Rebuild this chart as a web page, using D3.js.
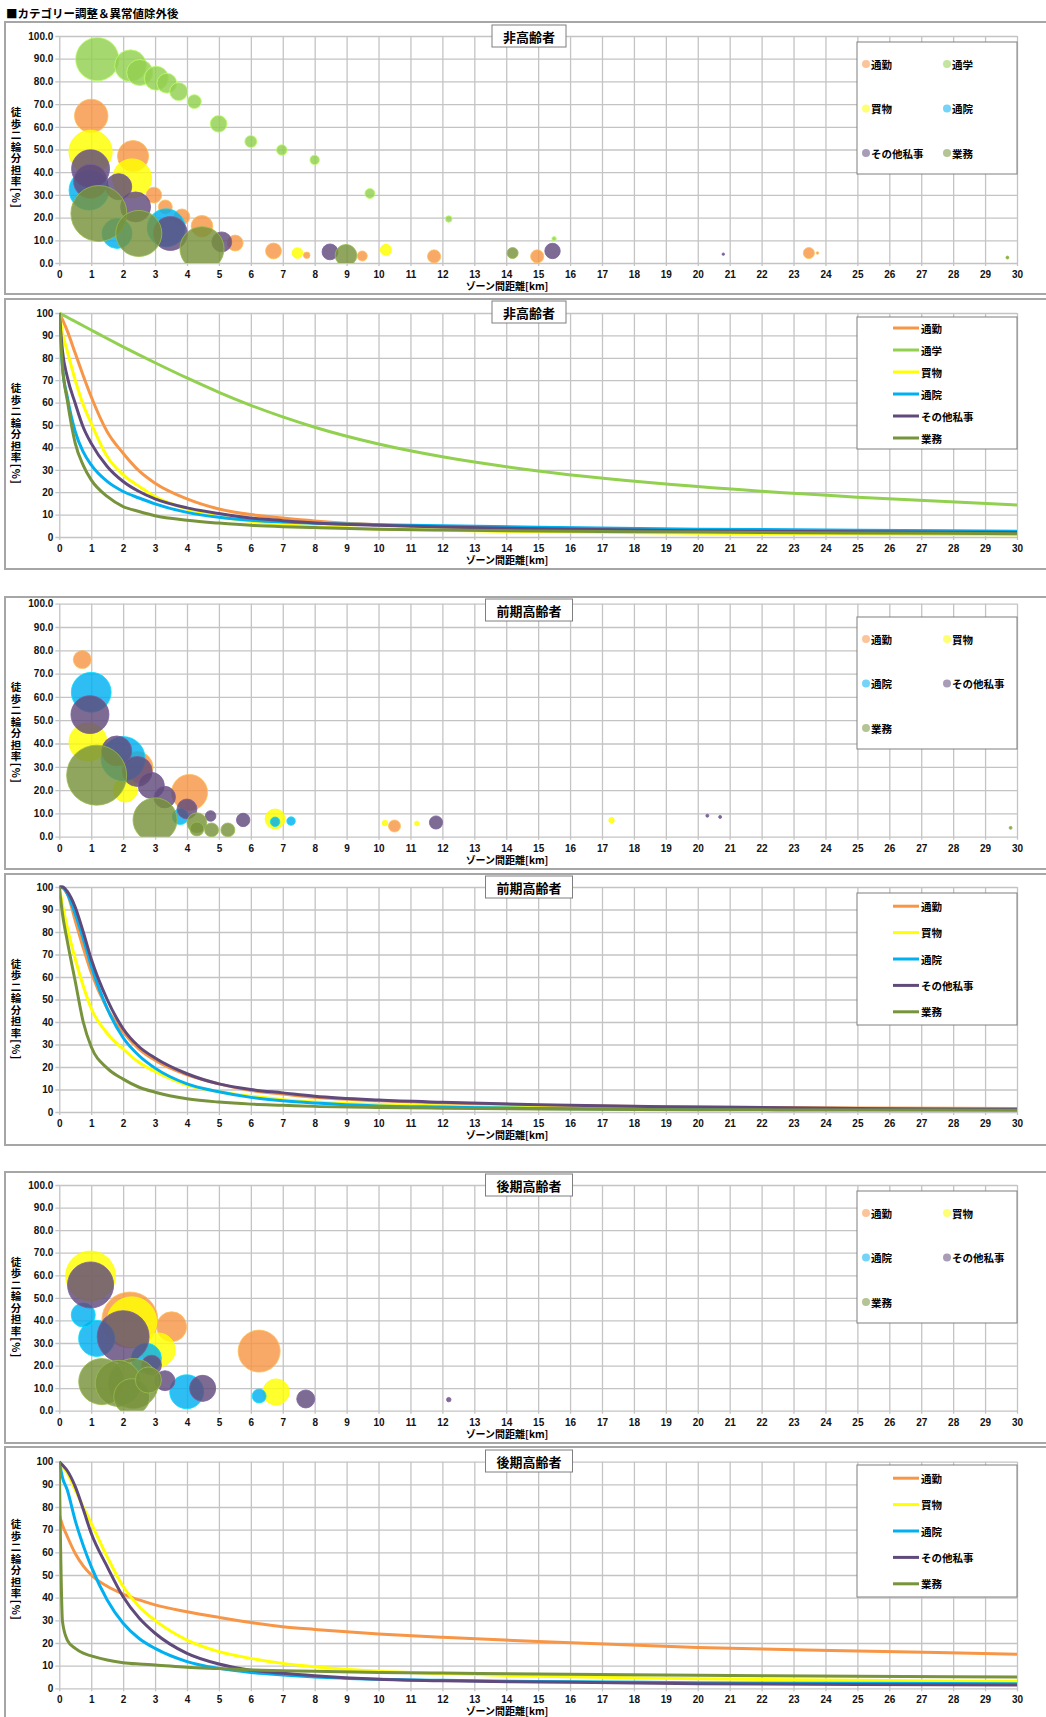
<!DOCTYPE html>
<html>
<head>
<meta charset="utf-8">
<script src="https://cdn.jsdelivr.net/npm/d3@7"></script>
<style>
  body { margin: 0; background: #fff; }
  svg text { font-family: "Liberation Sans", Arial, sans-serif; }
  .jp { font-family: "Noto Sans CJK JP", sans-serif; font-weight: bold; }
</style>
</head>
<body>
<svg id="chart" width="1046" height="1717"></svg>
<script>
// 目的区分と色
const purposes = ["通勤", "通学", "買物", "通院", "その他私事", "業務"];
const purposeColors = ["#F79646", "#92D050", "#FFFF00", "#00B0F0", "#604A7B", "#77933C"];
const xTicks = d3.range(0, 31);
const yTicks = d3.range(0, 101, 10);

// バブル: [ゾーン間距離km, 徒歩二輪分担率%, サイズ]
// 非高齢者
const nonCommuteB = [[1.0,64.8,31],[2.31,47.1,27],[2.96,29.9,7],[3.32,24.7,5.4],[3.84,20.3,7],[4.47,16.2,13],[5.51,8.8,7],[6.71,5.3,7],[7.75,3.4,1.2],[9.49,3.1,2.8],[11.74,2.9,4.8],[14.97,2.9,4.8],[23.48,4.4,3.4],[23.75,4.4,0.2]];
const nonSchoolB = [[1.19,89.8,52],[2.23,86.9,28],[2.52,83.9,19],[3.04,81.4,16],[3.37,79.2,11],[3.74,75.5,9],[4.23,71.1,5.4],[4.99,61.3,7.7],[6.0,53.5,4],[6.97,49.8,3.1],[8.0,45.4,2.5],[9.73,30.6,2.8],[12.2,19.4,1.2],[15.5,10.7,0.55]];
const nonShoppingB = [[0.98,49.0,52],[2.28,37.3,42],[7.46,4.4,3.1],[10.23,5.8,3.4]];
const nonHospitalB = [[0.93,32.1,44],[1.81,13.0,25],[3.35,15.5,40]];
const nonPrivateB = [[0.98,41.5,40],[0.98,36,32],[1.86,33.6,19],[2.39,24.7,25],[3.48,13,32],[5.09,9.3,11],[8.48,4.9,7],[15.45,5.3,6.6],[20.8,3.9,0.16]];
const nonBusinessB = [[1.24,21.8,87],[2.49,13,59],[4.47,6.3,54],[8.98,3.4,13],[14.2,4.4,3.4],[29.7,2.4,0.25]];
// 前期高齢者
const earlyCommuteB = [[0.72,76,9],[2.44,29.7,28],[4.08,19,36],[10.5,4.6,4]];
const earlyShoppingB = [[0.9,40.6,40],[2.07,20,16],[6.76,7.6,11],[10.2,5.9,0.8],[11.2,5.7,0.55],[17.3,7.1,0.8]];
const earlyHospitalB = [[1.0,62,44],[2.0,33.5,54],[3.79,8.6,7],[6.76,6.4,2.5],[7.26,6.7,2]];
const earlyPrivateB = [[0.96,52.4,40],[1.8,36.8,25],[2.44,28,25],[2.88,22,19],[3.3,17,13],[4.0,11.9,11],[4.74,8.9,3.1],[5.76,7.2,5],[11.8,6.1,4.8],[20.3,9,0.25],[20.7,8.5,0.25]];
const earlyBusinessB = [[1.17,26.4,100],[3.0,7.2,54],[4.31,6.0,11],[4.31,3.3,5.4],[4.77,2.9,5.4],[5.28,2.9,5.4],[29.8,3.8,0.25]];
// 後期高齢者
const lateCommuteB = [[2.21,40.2,87],[3.52,37.2,25],[6.26,26.4,49]];
const lateShoppingB = [[0.98,59.7,69],[2.27,39.4,69],[3.1,26.9,32],[6.79,8.3,19]];
const lateHospitalB = [[0.75,42.4,16],[1.17,32,36],[2.73,23.2,25],[3.99,8.4,32],[6.26,6.5,5.4]];
const latePrivateB = [[0.98,55.7,59],[2.0,32.8,75],[2.89,20.2,11],[3.31,13.3,11],[4.49,9.9,19],[7.72,5.2,9],[12.2,4.9,0.55]];
const lateBusinessB = [[1.33,12.9,59],[1.85,12.1,59],[2.32,12.1,69],[2.27,6.2,36],[2.79,13.6,19]];

// 分担率曲線 (距離ごとの値)
const lineDist = [0, 0.1, 0.25, 0.5, 0.75, 1, 1.5, 2, 2.5, 3, 4, 5, 6, 7, 8, 10, 12, 15, 20, 25, 30];
const nonCommuteL = [100, 97, 92, 82, 72, 62.6, 47, 37.4, 29.5, 24, 17, 12.5, 10, 8.5, 7.2, 5.5, 4.5, 3.4, 2.5, 2, 1.6];
const nonSchoolL = [100, 99.2, 98.1, 96.2, 94.3, 92.4, 88.6, 84.9, 81.3, 77.8, 71, 64.6, 58.8, 53.6, 49, 41.5, 35.8, 29.5, 22.5, 17.8, 14.3];
const nonShoppingL = [100, 91, 83, 70, 59, 50.7, 35.9, 27.7, 22.6, 18, 12.5, 9, 7, 5.5, 4.7, 3.6, 3, 2.3, 1.7, 1.3, 1];
const nonHospitalL = [100, 76, 62.6, 47, 38, 32.2, 24.8, 20.3, 17.4, 14.8, 11, 8.8, 7.5, 6.7, 6.1, 5.5, 5, 4.4, 3.5, 3, 2.6];
const nonPrivateL = [100, 83, 71.5, 59.6, 49, 41.8, 31.5, 24.8, 20.3, 17, 13, 10.5, 8.5, 7.3, 6.3, 5.2, 4.5, 3.7, 2.8, 2.3, 2];
const nonBusinessL = [100, 76, 61, 41.8, 32, 25.5, 18.1, 13.6, 11.4, 9.5, 7.5, 6.2, 5.2, 4.6, 4.2, 3.5, 3.1, 2.7, 2.2, 1.8, 1.5];

const earlyCommuteL = [100, 99.5, 97, 85, 73, 62, 46, 35.5, 28, 23, 16.5, 12.5, 9.5, 8, 6.5, 5, 4, 3, 2.2, 1.8, 1.5];
const earlyShoppingL = [100, 92, 82, 68, 56, 46, 35, 28, 22, 18, 12, 9, 7, 5.5, 4.5, 3.3, 2.7, 2, 1.6, 1.4, 1.2];
const earlyHospitalL = [100, 100, 97, 88, 77, 65, 46, 33, 25, 19.5, 12.5, 9, 6.5, 5, 4, 2.7, 2.2, 1.6, 1.3, 1.1, 1];
const earlyPrivateL = [100, 100, 98, 91, 80, 68, 50, 37, 29, 24, 17, 12.5, 10, 8.5, 7, 5.3, 4.3, 3.2, 2.2, 1.6, 1.2];
const earlyBusinessL = [100, 88, 76, 58, 40, 29, 19.5, 14.6, 11, 8.8, 5.9, 4.4, 3.5, 3, 2.5, 2, 1.7, 1.3, 1, 0.9, 0.8];

const lateCommuteL = [76.5, 72, 67, 59.5, 54, 50, 45, 41.6, 39, 36.8, 33.8, 31.3, 29, 27.2, 26, 24, 22.5, 20.7, 18, 16.5, 15];
const lateShoppingL = [100, 98, 95, 87.5, 80, 72.8, 58, 44.9, 36, 30, 21.3, 16.2, 13.2, 11, 9.5, 7.5, 6.5, 5.3, 4.2, 3.5, 3];
const lateHospitalL = [100, 93, 87.5, 74, 63, 53.7, 39, 28.7, 22, 17.6, 11.8, 8.8, 7, 5.9, 5, 4, 3.5, 3, 2.5, 2.2, 2];
const latePrivateL = [100, 98.5, 96, 89, 79, 68.4, 53.7, 40.4, 31, 24.3, 15.4, 10.7, 8, 6.6, 5.5, 4, 3.3, 2.8, 2, 1.7, 1.5];
const lateBusinessL = [100, 29.4, 21.3, 17.6, 15.5, 14.3, 12.5, 11.3, 10.7, 10.3, 9.3, 8.7, 8.1, 7.8, 7.5, 7, 6.7, 6.3, 5.8, 5.3, 5];

// パネル配置
const panels = [
    { kind: "bubble", title: "非高齢者", frame: [22, 294], plot: [36, 263], titleTop: 25, legendTop: 42,
      keys: [0, 1, 2, 3, 4, 5], data: [nonCommuteB, nonSchoolB, nonShoppingB, nonHospitalB, nonPrivateB, nonBusinessB] },
    { kind: "line", title: "非高齢者", frame: [299, 569], plot: [313, 537], titleTop: 301, legendTop: 317,
      keys: [0, 1, 2, 3, 4, 5], data: [nonCommuteL, nonSchoolL, nonShoppingL, nonHospitalL, nonPrivateL, nonBusinessL] },
    { kind: "bubble", title: "前期高齢者", frame: [597, 869], plot: [603.7, 836.7], titleTop: 599, legendTop: 617,
      keys: [0, 2, 3, 4, 5], data: [earlyCommuteB, earlyShoppingB, earlyHospitalB, earlyPrivateB, earlyBusinessB] },
    { kind: "line", title: "前期高齢者", frame: [874, 1145], plot: [887, 1112], titleTop: 876, legendTop: 893,
      keys: [0, 2, 3, 4, 5], data: [earlyCommuteL, earlyShoppingL, earlyHospitalL, earlyPrivateL, earlyBusinessL] },
    { kind: "bubble", title: "後期高齢者", frame: [1172, 1443], plot: [1185, 1410.7], titleTop: 1174, legendTop: 1191,
      keys: [0, 2, 3, 4, 5], data: [lateCommuteB, lateShoppingB, lateHospitalB, latePrivateB, lateBusinessB] },
    { kind: "line", title: "後期高齢者", frame: [1447, 1730], plot: [1461.7, 1688.3], titleTop: 1450, legendTop: 1465,
      keys: [0, 2, 3, 4, 5], data: [lateCommuteL, lateShoppingL, lateHospitalL, latePrivateL, lateBusinessL] }
];

const svg = d3.select("#chart");
const x = d3.scaleLinear().domain([0, 30]).range([59.3, 1017]);
const radius = d3.scaleSqrt().domain([0, 100]).range([0, 30]);

svg.append("text")
    .attr("class", "jp")
    .attr("x", 6).attr("y", 18)
    .attr("font-size", 11.5)
    .text("■カテゴリー調整＆異常値除外後");

panels.forEach((p, pi) => {
    const g = svg.append("g");
    const top = p.plot[0], bottom = p.plot[1];
    const y = d3.scaleLinear().domain([0, 100]).range([bottom, top]);
    const left = x.range()[0], right = x.range()[1];

    // 枠
    g.append("rect")
        .attr("x", 5).attr("y", p.frame[0])
        .attr("width", 1050).attr("height", p.frame[1] - p.frame[0])
        .attr("fill", "#fff")
        .attr("stroke", "#a6a6a6")
        .attr("stroke-width", 2);

    // 軸とグリッド
    const xAxis = g.append("g")
        .attr("transform", `translate(0, ${bottom})`)
        .call(d3.axisBottom(x)
            .tickValues(xTicks)
            .tickSizeInner(-(bottom - top))
            .tickSizeOuter(0)
            .tickPadding(8)
            .tickFormat(d3.format("d")));
    xAxis.select(".domain").remove();
    xAxis.selectAll(".tick line").attr("stroke", "#c4c4c4").attr("stroke-width", 1.3).attr("y1", 3);

    const yAxis = g.append("g")
        .attr("transform", `translate(${left}, 0)`)
        .call(d3.axisLeft(y)
            .tickValues(yTicks)
            .tickSizeInner(-(right - left))
            .tickSizeOuter(0)
            .tickPadding(6)
            .tickFormat(p.kind === "bubble" ? d3.format(".1f") : d3.format("d")));
    yAxis.select(".domain").remove();
    yAxis.selectAll(".tick line").attr("stroke", "#c4c4c4").attr("stroke-width", 1.3).attr("x1", -4);

    [xAxis, yAxis].forEach((a) => {
        a.attr("font-family", null).attr("font-size", null);
        a.selectAll(".tick text")
            .attr("font-size", 10)
            .attr("font-weight", "bold")
            .attr("fill", "#111");
    });

    // 描画領域
    const clipId = `clip${pi}`;
    g.append("clipPath").attr("id", clipId)
        .append("rect")
        .attr("x", left).attr("y", top - 2)
        .attr("width", right - left).attr("height", bottom - top + 2);
    const plot = g.append("g").attr("clip-path", `url(#${clipId})`);

    if (p.kind === "bubble")
    {
        p.data.forEach((series, si) => {
            const color = purposeColors[p.keys[si]];
            const sorted = series.slice().sort((a, b) => b[2] - a[2]);
            plot.selectAll(null)
                .data(sorted)
                .enter()
                .append("circle")
                .attr("cx", (d) => x(d[0]))
                .attr("cy", (d) => y(d[1]))
                .attr("r", (d) => Math.max(1.2, radius(d[2])))
                .attr("fill", color)
                .attr("fill-opacity", 0.82)
                .attr("stroke", d3.color(color).brighter(0.7).formatHex())
                .attr("stroke-opacity", 0.8)
                .attr("stroke-width", 1);
        });
    }
    else
    {
        const line = d3.line()
            .x((d, i) => x(lineDist[i]))
            .y((d) => y(d))
            .curve(d3.curveMonotoneX);
        p.data.forEach((series, si) => {
            plot.append("path")
                .datum(series)
                .attr("d", line)
                .attr("fill", "none")
                .attr("stroke", purposeColors[p.keys[si]])
                .attr("stroke-width", 3);
        });
    }

    // 軸タイトル
    g.append("text")
        .attr("class", "jp")
        .attr("x", 507).attr("y", bottom + 27)
        .attr("text-anchor", "middle")
        .attr("font-size", 10)
        .text("ゾーン間距離[km]");

    g.append("text")
        .attr("class", "jp")
        .attr("x", 16).attr("y", (p.frame[0] + Math.min(p.frame[1], 1717)) / 2 + (pi === 5 ? -12 : 0))
        .attr("text-anchor", "middle")
        .attr("font-size", 10.5)
        .style("writing-mode", "vertical-rl")
        .style("letter-spacing", "1px")
        .text("徒歩二輪分担率[%]");

    // グラフタイトル
    const tw = p.title.length * 13 + 22;
    g.append("rect")
        .attr("x", 529 - tw / 2).attr("y", p.titleTop)
        .attr("width", tw).attr("height", 22)
        .attr("fill", "#fff")
        .attr("stroke", "#7f7f7f")
        .attr("stroke-width", 1);
    g.append("text")
        .attr("class", "jp")
        .attr("x", 529).attr("y", p.titleTop + 11)
        .attr("text-anchor", "middle")
        .attr("dominant-baseline", "central")
        .attr("font-size", 13)
        .text(p.title);

    // 凡例
    const lg = g.append("g");
    lg.append("rect")
        .attr("x", 857).attr("y", p.legendTop)
        .attr("width", 160).attr("height", 132)
        .attr("fill", "#fff")
        .attr("stroke", "#7f7f7f")
        .attr("stroke-width", 1);

    if (p.kind === "bubble")
    {
        p.keys.forEach((k, i) => {
            const col = i % 2, row = Math.floor(i / 2);
            const lx = col === 0 ? 866 : 947;
            const ly = p.legendTop + 22 + row * 44.5;
            lg.append("circle")
                .attr("cx", lx).attr("cy", ly).attr("r", 4)
                .attr("fill", purposeColors[k])
                .attr("fill-opacity", 0.55);
            lg.append("text")
                .attr("class", "jp")
                .attr("x", lx + 5).attr("y", ly)
                .attr("dominant-baseline", "central")
                .attr("font-size", 10.5)
                .text(purposes[k]);
        });
    }
    else
    {
        const step = 132 / p.keys.length;
        p.keys.forEach((k, i) => {
            const ly = p.legendTop + step * (i + 0.5);
            lg.append("line")
                .attr("x1", 893).attr("x2", 919)
                .attr("y1", ly).attr("y2", ly)
                .attr("stroke", purposeColors[k])
                .attr("stroke-width", 3);
            lg.append("text")
                .attr("class", "jp")
                .attr("x", 921).attr("y", ly)
                .attr("dominant-baseline", "central")
                .attr("font-size", 10.5)
                .text(purposes[k]);
        });
    }
});
</script>
</body>
</html>
